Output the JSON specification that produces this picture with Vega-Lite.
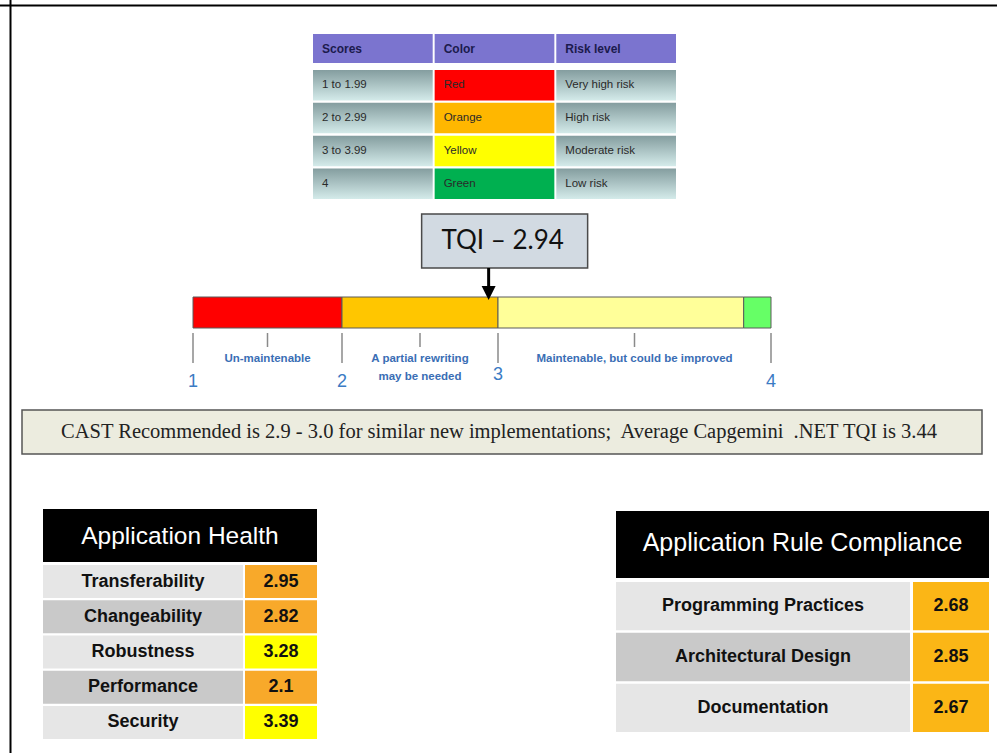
{
  "$schema": "https://vega.github.io/schema/vega-lite/v6.json",
  "width": 997,
  "height": 753,
  "autosize": "none",
  "padding": 0,
  "background": "white",
  "config": {"view": {"stroke": null}},
  "resolve": {"scale": {"x": "independent", "y": "independent", "fill": "independent"}},
  "layer": [
    {
      "data": {"values": [{"frame": "Figure frame"}]},
      "layer": [
        {
          "mark": {"type": "rule", "stroke": "#000000", "strokeWidth": 2},
          "encoding": {"y": {"field": "frame", "type": "nominal", "bandPosition": 0, "scale": {"range": [5.5, 753], "paddingInner": 0, "paddingOuter": 0}, "axis": null}}
        },
        {
          "mark": {"type": "rule", "stroke": "#000000", "strokeWidth": 2},
          "encoding": {"x": {"field": "frame", "type": "nominal", "bandPosition": 0, "scale": {"range": [10.5, 997], "paddingInner": 0, "paddingOuter": 0}, "axis": null}}
        }
      ]
    },
    {
      "data": {"values": [{"column": "Scores"}, {"column": "Color"}, {"column": "Risk level"}]},
      "layer": [
        {
          "mark": {"type": "rect", "fill": "#7b74cf"},
          "encoding": {
            "x": {"field": "column", "type": "nominal", "scale": {"domain": ["Scores", "Color", "Risk level"], "range": [313, 676], "paddingInner": 0.016, "paddingOuter": 0}, "axis": null},
            "y": {"datum": "Header", "type": "nominal", "scale": {"domain": ["Header"], "range": [34, 63], "paddingInner": 0, "paddingOuter": 0}, "axis": null}
          }
        },
        {
          "mark": {"type": "text", "align": "left", "baseline": "middle", "dx": 9, "font": "Liberation Sans, sans-serif", "fontWeight": "bold", "fontSize": 12, "fill": "#1b1b4d"},
          "encoding": {
            "x": {"field": "column", "type": "nominal", "bandPosition": 0, "scale": {"domain": ["Scores", "Color", "Risk level"], "range": [313, 676], "paddingInner": 0.016, "paddingOuter": 0}, "axis": null},
            "y": {"datum": "Header", "type": "nominal", "scale": {"domain": ["Header"], "range": [34, 63], "paddingInner": 0, "paddingOuter": 0}, "axis": null},
            "text": {"field": "column", "type": "nominal"}
          }
        }
      ]
    },
    {
      "data": {"values": [
        {"Scores": "1 to 1.99", "Color": "Red", "Risk level": "Very high risk"},
        {"Scores": "2 to 2.99", "Color": "Orange", "Risk level": "High risk"},
        {"Scores": "3 to 3.99", "Color": "Yellow", "Risk level": "Moderate risk"},
        {"Scores": "4", "Color": "Green", "Risk level": "Low risk"}
      ]},
      "transform": [{"fold": ["Scores", "Color", "Risk level"], "as": ["column", "label"]}],
      "encoding": {
        "x": {"field": "column", "type": "nominal", "scale": {"domain": ["Scores", "Color", "Risk level"], "range": [313, 676], "paddingInner": 0.016, "paddingOuter": 0}, "axis": null},
        "y": {"field": "Scores", "type": "nominal", "scale": {"domain": ["1 to 1.99", "2 to 2.99", "3 to 3.99", "4"], "range": [70, 199], "paddingInner": 0.07, "paddingOuter": 0}, "axis": null}
      },
      "layer": [
        {
          "transform": [{"filter": "datum.column !== 'Color'"}],
          "mark": {"type": "rect", "fill": {"gradient": "linear", "x1": 0, "y1": 0, "x2": 0, "y2": 1, "stops": [{"offset": 0, "color": "#849d9f"}, {"offset": 1, "color": "#d4ebea"}]}}
        },
        {
          "transform": [{"filter": "datum.column === 'Color'"}],
          "mark": {"type": "rect"},
          "encoding": {
            "fill": {"field": "Color", "type": "nominal", "scale": {"domain": ["Red", "Orange", "Yellow", "Green"], "range": ["#ff0000", "#ffb700", "#ffff00", "#00b050"]}, "legend": null}
          }
        },
        {
          "mark": {"type": "text", "align": "left", "baseline": "middle", "dx": 9, "font": "Liberation Sans, sans-serif", "fontSize": 11.5, "fill": "#2a2a2a"},
          "encoding": {
            "x": {"field": "column", "type": "nominal", "bandPosition": 0, "scale": {"domain": ["Scores", "Color", "Risk level"], "range": [313, 676], "paddingInner": 0.016, "paddingOuter": 0}, "axis": null},
            "text": {"field": "label", "type": "nominal"}
          }
        }
      ]
    },
    {
      "layer": [
        {
          "data": {"values": [
            {"from": 1, "to": 2, "band": "Red"},
            {"from": 2, "to": 3, "band": "Orange"},
            {"from": 3, "to": 3.9, "band": "Light yellow"},
            {"from": 3.9, "to": 4, "band": "Green"}
          ]},
          "mark": {"type": "rect", "stroke": "#5a5a5a", "strokeWidth": 1},
          "encoding": {
            "x": {"field": "from", "type": "quantitative", "scale": {"domain": [1, 2, 3, 4], "range": [193, 342, 498, 771], "zero": false, "nice": false}, "axis": null},
            "x2": {"field": "to"},
            "y": {"datum": 0, "type": "quantitative", "scale": {"domain": [0, 1], "range": [328, 297], "zero": false, "nice": false}, "axis": null},
            "y2": {"datum": 1},
            "fill": {"field": "band", "type": "nominal", "scale": {"domain": ["Red", "Orange", "Light yellow", "Green"], "range": ["#ff0000", "#ffc600", "#ffff99", "#66ff66"]}, "legend": null}
          }
        },
        {
          "data": {"values": [{"score": 1}, {"score": 2}, {"score": 3}, {"score": 4}]},
          "encoding": {
            "x": {"field": "score", "type": "quantitative", "scale": {"domain": [1, 2, 3, 4], "range": [193, 342, 498, 771], "zero": false, "nice": false}, "axis": null},
            "y": {"datum": 0, "type": "quantitative", "scale": {"domain": [0, 1], "range": [328, 297], "zero": false, "nice": false}, "axis": null}
          },
          "layer": [
            {
              "mark": {"type": "rule", "stroke": "#8a8a8a", "strokeWidth": 1.5, "yOffset": 5, "y2Offset": 35},
              "encoding": {"y2": {"datum": 0}}
            },
            {
              "transform": [{"filter": "datum.score !== 3"}],
              "mark": {"type": "text", "align": "center", "baseline": "middle", "dy": 54, "font": "Liberation Sans, sans-serif", "fontSize": 18, "fill": "#3b7bc4"},
              "encoding": {"text": {"field": "score", "type": "nominal"}}
            },
            {
              "transform": [{"filter": "datum.score === 3"}],
              "mark": {"type": "text", "align": "center", "baseline": "middle", "dy": 47, "font": "Liberation Sans, sans-serif", "fontSize": 18, "fill": "#3b7bc4"},
              "encoding": {"text": {"field": "score", "type": "nominal"}}
            }
          ]
        },
        {
          "data": {"values": [
            {"zone": "Un-maintenable", "mid": 1.5},
            {"zone": "A partial rewriting\nmay be needed", "mid": 2.5},
            {"zone": "Maintenable, but could be improved", "mid": 3.5}
          ]},
          "encoding": {
            "x": {"field": "mid", "type": "quantitative", "scale": {"domain": [1, 2, 3, 4], "range": [193, 342, 498, 771], "zero": false, "nice": false}, "axis": null},
            "y": {"datum": 0, "type": "quantitative", "scale": {"domain": [0, 1], "range": [328, 297], "zero": false, "nice": false}, "axis": null}
          },
          "layer": [
            {
              "mark": {"type": "rule", "stroke": "#8a8a8a", "strokeWidth": 1.5, "yOffset": 5, "y2Offset": 19},
              "encoding": {"y2": {"datum": 0}}
            },
            {
              "mark": {"type": "text", "align": "center", "baseline": "top", "dy": 25, "lineBreak": "\n", "lineHeight": 18, "font": "Liberation Sans, sans-serif", "fontWeight": "bold", "fontSize": 11.5, "fill": "#3a6eb5"},
              "encoding": {"text": {"field": "zone", "type": "nominal"}}
            }
          ]
        },
        {
          "data": {"values": [{"label": "TQI – 2.94", "tqi": 2.94}]},
          "encoding": {
            "x": {"field": "tqi", "type": "quantitative", "scale": {"domain": [1, 2, 3, 4], "range": [193, 342, 498, 771], "zero": false, "nice": false}, "axis": null},
            "y": {"datum": 1, "type": "quantitative", "scale": {"domain": [0, 1], "range": [328, 297], "zero": false, "nice": false}, "axis": null}
          },
          "layer": [
            {
              "mark": {"type": "rect", "fill": "#d2dae2", "stroke": "#4a4a4a", "strokeWidth": 1.5, "xOffset": -67, "x2Offset": 99, "yOffset": -83, "y2Offset": -29},
              "encoding": {"x2": {"field": "tqi"}, "y2": {"datum": 1}}
            },
            {
              "mark": {"type": "text", "align": "center", "baseline": "middle", "dx": 14, "dy": -56, "font": "Lato, sans-serif", "fontSize": 26, "fill": "#111111"},
              "encoding": {"text": {"field": "label", "type": "nominal"}}
            },
            {
              "mark": {"type": "rule", "stroke": "#000000", "strokeWidth": 3, "yOffset": -29, "y2Offset": -9},
              "encoding": {"y2": {"datum": 1}}
            },
            {
              "mark": {"type": "point", "shape": "M-1,-1L1,-1L0,1Z", "size": 196, "filled": true, "fill": "#000000", "opacity": 1, "strokeWidth": 0, "yOffset": -4}
            }
          ]
        }
      ]
    },
    {
      "data": {"values": [{"note": "CAST Recommended is 2.9 - 3.0 for similar new implementations;\u00a0 Average Capgemini\u00a0 .NET TQI is 3.44"}]},
      "encoding": {
        "x": {"field": "note", "type": "nominal", "scale": {"range": [22, 982], "paddingInner": 0, "paddingOuter": 0}, "axis": null},
        "y": {"field": "note", "type": "nominal", "scale": {"range": [410, 454], "paddingInner": 0, "paddingOuter": 0}, "axis": null}
      },
      "layer": [
        {"mark": {"type": "rect", "fill": "#ececdf", "stroke": "#555555", "strokeWidth": 1.5}},
        {
          "mark": {"type": "text", "align": "center", "baseline": "middle", "dx": -3, "font": "Liberation Serif, serif", "fontSize": 20.5, "fill": "#222222"},
          "encoding": {"text": {"field": "note", "type": "nominal"}}
        }
      ]
    },
    {
      "data": {"values": [{"title": "Application Health"}]},
      "encoding": {
        "x": {"field": "title", "type": "nominal", "scale": {"range": [43, 317], "paddingInner": 0, "paddingOuter": 0}, "axis": null},
        "y": {"field": "title", "type": "nominal", "scale": {"range": [509, 562], "paddingInner": 0, "paddingOuter": 0}, "axis": null}
      },
      "layer": [
        {"mark": {"type": "rect", "fill": "#000000"}},
        {
          "mark": {"type": "text", "align": "center", "baseline": "middle", "dy": 1, "font": "Liberation Sans, sans-serif", "fontSize": 24.5, "fill": "#ffffff"},
          "encoding": {"text": {"field": "title", "type": "nominal"}}
        }
      ]
    },
    {
      "data": {"values": [
        {"metric": "Transferability", "score": 2.95},
        {"metric": "Changeability", "score": 2.82},
        {"metric": "Robustness", "score": 3.28},
        {"metric": "Performance", "score": 2.1},
        {"metric": "Security", "score": 3.39}
      ]},
      "encoding": {
        "y": {"field": "metric", "type": "nominal", "scale": {"domain": ["Transferability", "Changeability", "Robustness", "Performance", "Security"], "range": [565, 739], "paddingInner": 0.06, "paddingOuter": 0}, "axis": null}
      },
      "resolve": {"scale": {"x": "independent", "fill": "independent"}},
      "layer": [
        {
          "encoding": {"x": {"datum": "Metric", "type": "nominal", "scale": {"domain": ["Metric"], "range": [43, 243], "paddingInner": 0, "paddingOuter": 0}, "axis": null}},
          "layer": [
            {
              "mark": {"type": "rect"},
              "encoding": {"fill": {"field": "metric", "type": "nominal", "scale": {"domain": ["Transferability", "Changeability", "Robustness", "Performance", "Security"], "range": ["#e6e6e6", "#c9c9c9", "#e6e6e6", "#c9c9c9", "#e6e6e6"]}, "legend": null}}
            },
            {
              "mark": {"type": "text", "align": "center", "baseline": "middle", "font": "Liberation Sans, sans-serif", "fontWeight": "bold", "fontSize": 18, "fill": "#111111"},
              "encoding": {"text": {"field": "metric", "type": "nominal"}}
            }
          ]
        },
        {
          "encoding": {"x": {"datum": "Score", "type": "nominal", "scale": {"domain": ["Score"], "range": [245, 317], "paddingInner": 0, "paddingOuter": 0}, "axis": null}},
          "layer": [
            {
              "mark": {"type": "rect"},
              "encoding": {"fill": {"field": "score", "type": "quantitative", "scale": {"type": "threshold", "domain": [2, 3, 4], "range": ["#ff0000", "#f8a92a", "#ffff00", "#00b050"]}, "legend": null}}
            },
            {
              "mark": {"type": "text", "align": "center", "baseline": "middle", "font": "Liberation Sans, sans-serif", "fontWeight": "bold", "fontSize": 18, "fill": "#111111"},
              "encoding": {"text": {"field": "score", "type": "nominal"}}
            }
          ]
        }
      ]
    },
    {
      "data": {"values": [{"title": "Application Rule Compliance"}]},
      "encoding": {
        "x": {"field": "title", "type": "nominal", "scale": {"range": [616, 989], "paddingInner": 0, "paddingOuter": 0}, "axis": null},
        "y": {"field": "title", "type": "nominal", "scale": {"range": [511, 578], "paddingInner": 0, "paddingOuter": 0}, "axis": null}
      },
      "layer": [
        {"mark": {"type": "rect", "fill": "#000000"}},
        {
          "mark": {"type": "text", "align": "center", "baseline": "middle", "dy": -2, "font": "Liberation Sans, sans-serif", "fontSize": 25, "fill": "#ffffff"},
          "encoding": {"text": {"field": "title", "type": "nominal"}}
        }
      ]
    },
    {
      "data": {"values": [
        {"area": "Programming Practices", "score": 2.68},
        {"area": "Architectural Design", "score": 2.85},
        {"area": "Documentation", "score": 2.67}
      ]},
      "encoding": {
        "y": {"field": "area", "type": "nominal", "scale": {"domain": ["Programming Practices", "Architectural Design", "Documentation"], "range": [582, 732], "paddingInner": 0.05, "paddingOuter": 0}, "axis": null}
      },
      "resolve": {"scale": {"x": "independent", "fill": "independent"}},
      "layer": [
        {
          "encoding": {"x": {"datum": "Area", "type": "nominal", "scale": {"domain": ["Area"], "range": [616, 910], "paddingInner": 0, "paddingOuter": 0}, "axis": null}},
          "layer": [
            {
              "mark": {"type": "rect"},
              "encoding": {"fill": {"field": "area", "type": "nominal", "scale": {"domain": ["Programming Practices", "Architectural Design", "Documentation"], "range": ["#e6e6e6", "#c9c9c9", "#e6e6e6"]}, "legend": null}}
            },
            {
              "mark": {"type": "text", "align": "center", "baseline": "middle", "font": "Liberation Sans, sans-serif", "fontWeight": "bold", "fontSize": 18, "fill": "#111111"},
              "encoding": {"text": {"field": "area", "type": "nominal"}}
            }
          ]
        },
        {
          "encoding": {"x": {"datum": "Score", "type": "nominal", "scale": {"domain": ["Score"], "range": [913, 989], "paddingInner": 0, "paddingOuter": 0}, "axis": null}},
          "layer": [
            {
              "mark": {"type": "rect"},
              "encoding": {"fill": {"field": "score", "type": "quantitative", "scale": {"type": "threshold", "domain": [2, 3, 4], "range": ["#ff0000", "#fbb616", "#ffff00", "#00b050"]}, "legend": null}}
            },
            {
              "mark": {"type": "text", "align": "center", "baseline": "middle", "font": "Liberation Sans, sans-serif", "fontWeight": "bold", "fontSize": 18, "fill": "#111111"},
              "encoding": {"text": {"field": "score", "type": "nominal"}}
            }
          ]
        }
      ]
    }
  ]
}
